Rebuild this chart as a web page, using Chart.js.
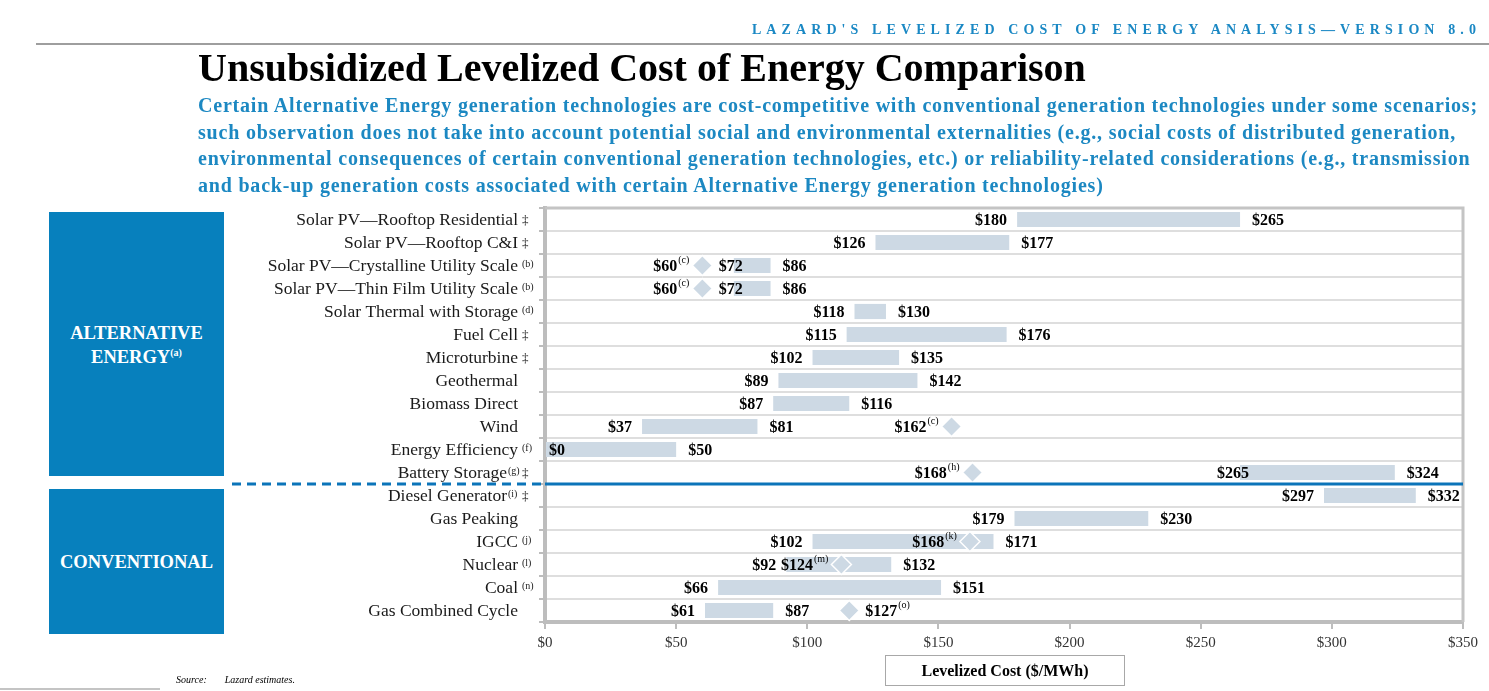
<!DOCTYPE html>
<html>
<head>
<meta charset="utf-8">
<script src="https://cdn.jsdelivr.net/npm/chart.js@4"></script>
<style>
  body { margin: 0; width: 1489px; height: 691px; background: #fff; position: relative; overflow: hidden; font-family: "Liberation Serif", serif; }
  #chart { position: absolute; left: 0; top: 0; }
  .abs { position: absolute; white-space: nowrap; }
  .rule { position: absolute; background: #9e9e9e; }
  .box { position: absolute; background: #0780bd; color: #fff; font-weight: bold; font-size: 18.5px; text-align: center; display: flex; align-items: center; justify-content: center; line-height: 20px; }
  #header { right: 8px; top: 22px; color: #1a88c4; font-weight: bold; font-size: 14px; letter-spacing: 5.1px; }
  #title { left: 198px; top: 44px; font-size: 40px; font-weight: bold; color: #000; }
  #subtitle { left: 198px; top: 92px; color: #1c88c2; font-weight: bold; font-size: 20px; letter-spacing: 0.8px; line-height: 26.7px; }
  #xtitle { left: 885px; top: 655px; width: 238px; height: 29px; border: 1.5px solid #a8a8a8; font-weight: bold; font-size: 16px; text-align: center; line-height: 29px; }
  #source { left: 176px; top: 674px; font-size: 10px; font-style: italic; }
</style>
</head>
<body>
<canvas id="chart" width="1489" height="691"></canvas>

<div id="header" class="abs">LAZARD'S LEVELIZED COST OF ENERGY ANALYSIS—VERSION 8.0</div>
<div class="rule" style="left:36px; top:43px; width:1453px; height:2px;"></div>
<div id="title" class="abs">Unsubsidized Levelized Cost of Energy Comparison</div>
<div id="subtitle" class="abs">Certain Alternative Energy generation technologies are cost-competitive with conventional generation technologies under some scenarios;<br>such observation does not take into account potential social and environmental externalities (e.g., social costs of distributed generation,<br>environmental consequences of certain conventional generation technologies, etc.) or reliability-related considerations (e.g., transmission<br>and back-up generation costs associated with certain Alternative Energy generation technologies)</div>

<div class="box" style="left:49px; top:212px; width:175px; height:264px;"><div style="margin-top:2px;">ALTERNATIVE<br>ENERGY<sup style="font-size:10px;">(a)</sup></div></div>
<div class="box" style="left:49px; top:489px; width:175px; height:145px;">CONVENTIONAL</div>

<div id="xtitle" class="abs">Levelized Cost ($/MWh)</div>
<div id="source" class="abs">Source:<span style="margin-left:18px;">Lazard estimates.</span></div>
<div class="rule" style="left:0; top:688px; width:160px; height:2px; background:#c4c4c4;"></div>

<script>
// technologies, top to bottom
const categories = [
    'Solar PV—Rooftop Residential',
    'Solar PV—Rooftop C&I',
    'Solar PV—Crystalline Utility Scale',
    'Solar PV—Thin Film Utility Scale',
    'Solar Thermal with Storage',
    'Fuel Cell',
    'Microturbine',
    'Geothermal',
    'Biomass Direct',
    'Wind',
    'Energy Efficiency',
    'Battery Storage',
    'Diesel Generator',
    'Gas Peaking',
    'IGCC',
    'Nuclear',
    'Coal',
    'Gas Combined Cycle'
];
const notes = ['', '', 'b', 'b', 'd', '', '', '', '', '', 'f', 'g', 'i', '', 'j', 'l', 'n', ''];
const daggers = [true, true, false, false, false, true, true, false, false, false, false, true, true, false, false, false, false, false];

// $/MWh ranges
const lowCost  = [180, 126, 72, 72, 118, 115, 102, 89, 87, 37, 0, 265, 297, 179, 102, 92, 66, 61];
const highCost = [265, 177, 86, 86, 130, 176, 135, 142, 116, 81, 50, 324, 332, 230, 171, 132, 151, 87];

// diamond markers: labelled value, footnote, and where the diamond sits in the picture
const markerCost = [null, null, 60, 60, null, null, null, null, null, 162, null, 168, null, null, 168, 124, null, 127];
const markerNote = ['', '', 'c', 'c', '', '', '', '', '', 'c', '', 'h', '', '', 'k', 'm', '', 'o'];
const markerAt   = [null, null, 60, 60, null, null, null, null, null, 155, null, 163, null, null, 162, 113, null, 116];

const xTicks = [0, 50, 100, 150, 200, 250, 300, 350];
const separatorAfter = 11; // last alternative-energy row

const SERIF = '"Liberation Serif", "Times New Roman", serif';
const BAR = '#cdd9e4';
const AXIS = '#bdbdbd';

const labelsPlugin = {
    id: 'lcoeLabels',
    afterDatasetsDraw(chart) {
        const { ctx, chartArea, scales: { x, y } } = chart;
        ctx.save();

        // top and right frame
        ctx.strokeStyle = '#c4c4c4';
        ctx.lineWidth = 3;
        ctx.beginPath();
        ctx.moveTo(chartArea.left, chartArea.top);
        ctx.lineTo(chartArea.right, chartArea.top);
        ctx.lineTo(chartArea.right, chartArea.bottom);
        ctx.stroke();

        // alternative / conventional separator
        const sy = (y.getPixelForValue(separatorAfter) + y.getPixelForValue(separatorAfter + 1)) / 2;
        ctx.strokeStyle = '#0b74b9';
        ctx.lineWidth = 3;
        ctx.beginPath();
        ctx.moveTo(chartArea.left, sy);
        ctx.lineTo(chartArea.right, sy);
        ctx.stroke();
        ctx.setLineDash([9, 6]);
        ctx.beginPath();
        ctx.moveTo(232, sy);
        ctx.lineTo(chartArea.left - 4, sy);
        ctx.stroke();
        ctx.setLineDash([]);

        ctx.textBaseline = 'middle';
        ctx.fillStyle = '#000';

        categories.forEach((name, i) => {
            const yc = y.getPixelForValue(i) + 1;

            // category names + footnotes
            ctx.font = `17.5px ${SERIF}`;
            ctx.fillStyle = '#1a1a1a';
            ctx.textAlign = 'right';
            const nameRight = chartArea.left - 27 - (notes[i] && daggers[i] ? 11 : 0);
            ctx.fillText(name, nameRight, yc);
            ctx.textAlign = 'left';
            if (notes[i]) {
                ctx.font = `10px ${SERIF}`;
                const nx = daggers[i] ? nameRight + 1 : chartArea.left - 23;
                ctx.fillText('(' + notes[i] + ')', nx, yc - 2);
            }
            if (daggers[i]) {
                ctx.font = `13px ${SERIF}`;
                ctx.fillText('‡', chartArea.left - 23, yc);
            }

            // range labels
            ctx.fillStyle = '#000';
            ctx.font = `bold 16px ${SERIF}`;
            const xs = x.getPixelForValue(lowCost[i]);
            const xe = x.getPixelForValue(highCost[i]);
            const lowText = '$' + lowCost[i];
            if (lowCost[i] === 0) {
                ctx.textAlign = 'left';
                ctx.fillText(lowText, xs + 4, yc);
            } else if (markerAt[i] !== null && markerAt[i] < lowCost[i]) {
                // squeezed between diamond and bar
                ctx.textAlign = 'right';
                ctx.fillText(lowText, xs + 9, yc);
            } else {
                ctx.textAlign = 'right';
                ctx.fillText(lowText, xs - 10, yc);
            }
            ctx.textAlign = 'left';
            ctx.fillText('$' + highCost[i], xe + 12, yc);

            // diamond labels
            if (markerCost[i] !== null) {
                const mx = x.getPixelForValue(markerAt[i]);
                const main = '$' + markerCost[i];
                const sup = '(' + markerNote[i] + ')';
                ctx.font = `bold 16px ${SERIF}`;
                const wMain = ctx.measureText(main).width;
                ctx.font = `10px ${SERIF}`;
                const wSup = ctx.measureText(sup).width;
                let start;
                if (i === categories.length - 1) {
                    start = mx + 16;
                } else {
                    start = mx - 13 - wSup - 1 - wMain;
                }
                ctx.font = `bold 16px ${SERIF}`;
                ctx.fillText(main, start, yc);
                ctx.font = `10px ${SERIF}`;
                ctx.fillText(sup, start + wMain + 1, yc - 6);
            }
        });
        ctx.restore();
    }
};

new Chart(document.getElementById('chart'), {
    type: 'bar',
    data: {
        labels: categories,
        datasets: [{
            type: 'line',
            indexAxis: 'y',
            data: markerAt,
            showLine: false,
            pointStyle: 'rectRot',
            pointRadius: 10,
            pointBackgroundColor: BAR,
            pointBorderColor: '#fff',
            pointBorderWidth: 1.5,
            order: 0
        }, {
            data: lowCost.map((v, i) => [v, highCost[i]]),
            backgroundColor: BAR,
            borderWidth: 0,
            barPercentage: 0.66,
            categoryPercentage: 1,
            order: 1
        }]
    },
    options: {
        indexAxis: 'y',
        responsive: false,
        animation: false,
        layout: { padding: { left: 0, top: 208, right: 26, bottom: 39 } },
        plugins: { legend: { display: false }, tooltip: { enabled: false } },
        scales: {
            x: {
                type: 'linear',
                min: 0,
                max: 350,
                afterBuildTicks: s => { s.ticks = xTicks.map(v => ({ value: v })); },
                afterFit: s => { s.height = 30; },
                ticks: {
                    callback: v => '$' + v,
                    font: { family: SERIF, size: 15 },
                    color: '#333',
                    padding: 5
                },
                grid: { drawOnChartArea: false, tickLength: 7, tickColor: AXIS, lineWidth: 2 },
                border: { color: AXIS, width: 4 }
            },
            y: {
                afterFit: s => { s.width = 545; },
                ticks: { display: false },
                grid: { offset: true, color: '#dedede', lineWidth: 2, tickLength: 6, tickColor: AXIS },
                border: { color: AXIS, width: 4 }
            }
        }
    },
    plugins: [labelsPlugin]
});
</script>
</body>
</html>
